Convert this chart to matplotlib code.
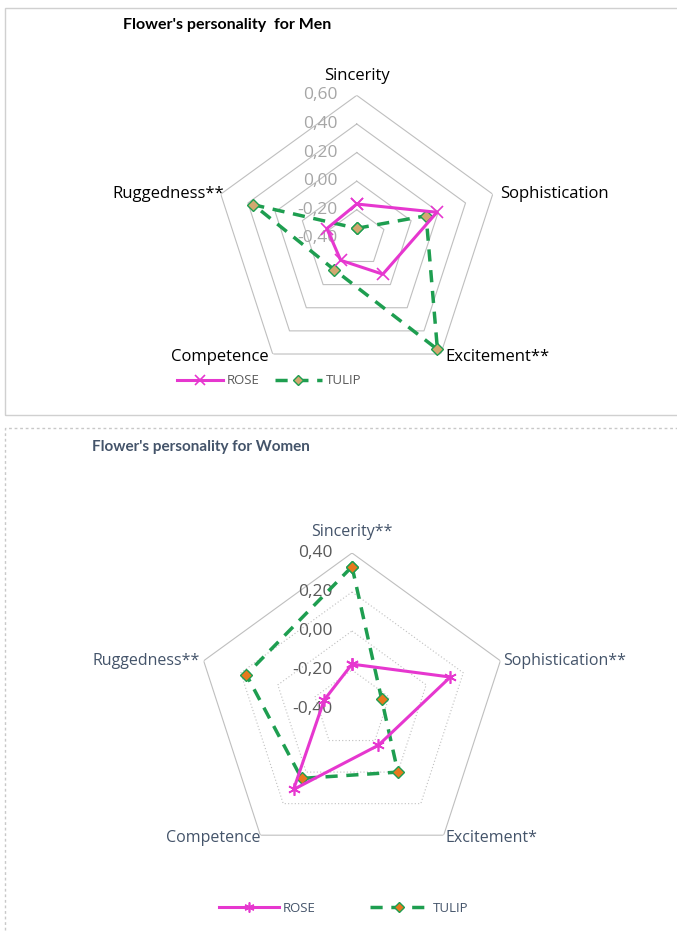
import numpy as np
import matplotlib
matplotlib.use("Agg")
import matplotlib.pyplot as plt
from matplotlib.patches import Rectangle

plt.rcParams['font.family'] = ['Open Sans', 'DejaVu Sans']

# categories (clockwise from top)
men_cats = ["Sincerity", "Sophistication", "Excitement**", "Competence", "Ruggedness**"]
women_cats = ["Sincerity**", "Sophistication**", "Excitement*", "Competence", "Ruggedness**"]

# values
men_rose = [-0.16, 0.19, -0.09, -0.21, -0.18]
men_tulip = [-0.33, 0.11, 0.56, -0.13, 0.36]
women_rose = [-0.17, 0.13, -0.17, 0.11, -0.25]
women_tulip = [0.33, -0.24, 0.00, 0.04, 0.17]

men_ticks = [-0.4, -0.2, 0.0, 0.2, 0.4, 0.6]
women_ticks = [-0.4, -0.2, 0.0, 0.2, 0.4]

ROSE_C = "#E637CF"
TULIP_C = "#1E9E50"


def fmt(v):
    return ("%.2f" % v).replace(".", ",")


def radar(ax, cats, rose, tulip, ticks, lab_color, lab_size, tick_color, ring_style, rose_marker,
          tulip_fill, offs):
    n = len(cats)
    ang = np.arange(n) * 2 * np.pi / n
    ang_c = np.append(ang, ang[0])
    ax.set_theta_offset(np.pi / 2)
    ax.set_theta_direction(-1)
    ax.set_ylim(ticks[0], ticks[-1])
    ax.grid(False)
    ax.spines['polar'].set_visible(False)
    ax.set_xticks([])
    ax.set_yticks([])
    ax.patch.set_alpha(0)
    for i, t in enumerate(ticks[1:]):
        ls = ring_style if i < len(ticks) - 2 else '-'
        ax.plot(ang_c, [t] * (n + 1), color="#BFBFBF", lw=0.8, ls=ls, zorder=1)
    for t in ticks:
        ax.annotate(fmt(t), xy=(0, t), xytext=(-14, 0), textcoords='offset points',
                    ha='right', va='center', fontsize=12.5, color=tick_color, zorder=2)
    for a, c, (dx, dy, ha) in zip(ang, cats, offs):
        ax.annotate(c, xy=(a, ticks[-1]), xytext=(dx, dy), textcoords='offset points',
                    ha=ha, va='center', fontsize=lab_size, color=lab_color, annotation_clip=False)
    r = np.append(rose, rose[0])
    t = np.append(tulip, tulip[0])
    ax.plot(ang_c, r, color=ROSE_C, lw=2.2, marker=rose_marker, ms=9, mew=1.2,
            mec=ROSE_C, zorder=4, label="ROSE")
    ax.plot(ang_c, t, color=TULIP_C, lw=2.5, ls=(0, (3.5, 2.5)), marker='D', ms=6,
            mfc=tulip_fill, mec=TULIP_C, mew=1.0, zorder=3, label="TULIP")


fig = plt.figure(figsize=(6.77, 9.33), dpi=100)

# panel frames
fig.add_artist(Rectangle((5 / 677, 1 - 415 / 933), 680 / 677, 407 / 933, transform=fig.transFigure,
                         fill=False, ec="#D0D0D0", lw=1.0))
fig.add_artist(Rectangle((5 / 677, -0.01), 680 / 677, (933 - 428) / 933 + 0.01, transform=fig.transFigure,
                         fill=False, ec="#C8C8C8", lw=1.0, ls=(0, (2, 2))))

ax1 = fig.add_axes([0.3157, 0.5913, 0.4225, 0.3065], projection='polar')
radar(ax1, men_cats, men_rose, men_tulip, men_ticks, "black", 12, "#A6A6A6", '-', 'x', "#D2A870",
      [(0, 14, 'center'), (5, 0, 'left'), (3, -2, 'left'), (-3, -2, 'right'), (2, 0, 'right')])
fig.text(123 / 677, 1 - 25 / 933, "Flower's personality  for Men", fontsize=11.5, fontweight='bold',
         family=['Lato', 'DejaVu Sans'], color="black", va='center', ha='left')
h, l = ax1.get_legend_handles_labels()
fig.legend(h, l, loc='center', bbox_to_anchor=(0.397, 1 - 381 / 933), ncol=2, frameon=False,
           fontsize=9.5, labelcolor="#595959", handlelength=3.5, columnspacing=1.2, handletextpad=0.3,
           markerscale=0.8)

ax2 = fig.add_axes([0.2895, 0.0729, 0.4609, 0.3344], projection='polar')
radar(ax2, women_cats, women_rose, women_tulip, women_ticks, "#44546A", 11.5, "#595959", (0, (1, 2)),
      (6, 2, 0), "#E8781E",
      [(0, 15, 'center'), (2, 0, 'left'), (1, -2, 'left'), (0, -2, 'right'), (-3, 0, 'right')])
fig.text(92 / 677, 1 - 447 / 933, "Flower's personality for Women", fontsize=11, fontweight='bold',
         family=['Lato', 'DejaVu Sans'], color="#44546A", va='center', ha='left')
h, l = ax2.get_legend_handles_labels()
fig.legend(h, l, loc='center', bbox_to_anchor=(0.508, 1 - 908 / 933), ncol=2, frameon=False,
           fontsize=9.5, labelcolor="#44546A", handlelength=4.5, columnspacing=4.1, handletextpad=0.3,
           markerscale=0.8)

fig.savefig("out.png", dpi=100)
